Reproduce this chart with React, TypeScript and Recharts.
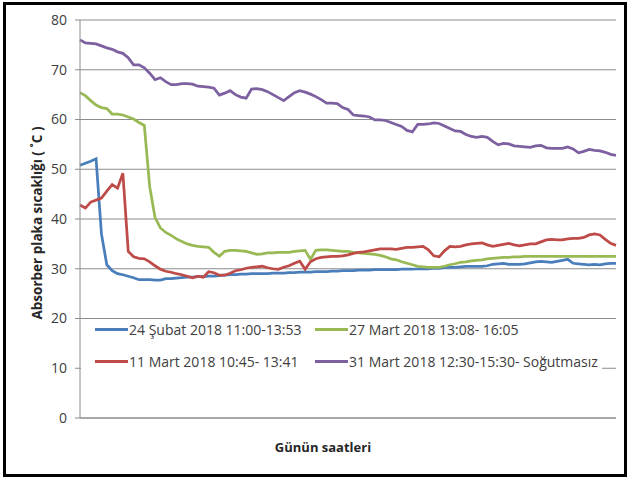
import React from 'react';
import { LineChart, Line, XAxis, YAxis, CartesianGrid, Legend } from 'recharts';

// One reading every two minutes, minute 0 .. 200
const SAMPLE_STEP = 2;
const xTicks = [0, 49, 98, 147, 196];
const yTicks = [0, 10, 20, 30, 40, 50, 60, 70, 80];

const subat24 = [
  50.8, 51.2, 51.6, 52.1, 37.0, 30.8, 29.6, 29.0, 28.8, 28.5,
  28.2, 27.8, 27.8, 27.8, 27.7, 27.7, 28.0, 28.0, 28.1, 28.2,
  28.3, 28.3, 28.4, 28.4, 28.5, 28.5, 28.6, 28.7, 28.8, 28.8,
  28.9, 28.9, 29.0, 29.0, 29.0, 29.0, 29.1, 29.1, 29.1, 29.2,
  29.2, 29.3, 29.3, 29.3, 29.4, 29.4, 29.4, 29.5, 29.5, 29.6,
  29.6, 29.6, 29.7, 29.7, 29.7, 29.8, 29.8, 29.8, 29.8, 29.8,
  29.9, 29.9, 29.9, 30.0, 30.0, 30.0, 30.1, 30.1, 30.2, 30.3,
  30.3, 30.4, 30.5, 30.5, 30.5, 30.5, 30.6, 30.9, 31.0, 31.1,
  30.9, 30.9, 30.9, 31.0, 31.2, 31.4, 31.5, 31.4, 31.3, 31.5,
  31.7, 31.9, 31.1, 31.0, 30.9, 30.8, 30.9, 30.8, 31.0, 31.1,
  31.1,
];

const mart27 = [
  65.4, 64.8, 63.8, 62.9, 62.4, 62.2, 61.1, 61.1, 60.9, 60.5,
  60.1, 59.4, 58.8, 46.5, 40.3, 38.2, 37.3, 36.7, 36.0, 35.5,
  35.0, 34.7, 34.5, 34.4, 34.3, 33.3, 32.5, 33.5, 33.7, 33.7,
  33.6, 33.5, 33.2, 32.9, 33.0, 33.2, 33.2, 33.3, 33.3, 33.3,
  33.5, 33.6, 33.7, 31.9, 33.7, 33.8, 33.8, 33.7, 33.6, 33.5,
  33.5, 33.3, 33.2, 33.1, 33.0, 32.9, 32.7, 32.4, 32.0, 31.8,
  31.4, 31.1, 30.8, 30.5, 30.4, 30.3, 30.3, 30.3, 30.5, 30.8,
  31.0, 31.3, 31.4, 31.6, 31.7, 31.8, 32.0, 32.1, 32.2, 32.3,
  32.3, 32.4, 32.4, 32.5, 32.5, 32.5, 32.5, 32.5, 32.5, 32.5,
  32.5, 32.5, 32.5, 32.5, 32.5, 32.5, 32.5, 32.5, 32.5, 32.5,
  32.5,
];

const mart11 = [
  42.8, 42.2, 43.4, 43.8, 44.2, 45.6, 46.9, 46.2, 49.2, 33.5,
  32.4, 32.1, 32.0, 31.4, 30.6, 29.9, 29.5, 29.3, 29.0, 28.8,
  28.5, 28.2, 28.5, 28.3, 29.4, 29.2, 28.7, 28.7, 29.1, 29.6,
  29.8, 30.1, 30.3, 30.4, 30.5, 30.2, 30.0, 29.9, 30.3, 30.6,
  31.1, 31.5, 29.9, 31.4, 32.0, 32.3, 32.4, 32.5, 32.5, 32.6,
  32.8, 33.1, 33.3, 33.4, 33.6, 33.8, 34.0, 34.0, 34.0, 33.9,
  34.1, 34.3, 34.3, 34.4, 34.5, 33.8, 32.6, 32.4, 33.6, 34.5,
  34.4, 34.5, 34.8, 35.0, 35.1, 35.2, 34.8, 34.5, 34.7, 34.9,
  35.1, 34.8, 34.6, 34.8, 35.0, 35.0, 35.4, 35.8, 35.9, 35.8,
  35.8, 36.0, 36.1, 36.1, 36.3, 36.8, 37.0, 36.8, 35.9, 35.1,
  34.7,
];

const mart31 = [
  76.0, 75.4, 75.3, 75.2, 74.8, 74.4, 74.1, 73.6, 73.3, 72.4,
  71.0, 71.0, 70.4, 69.3, 68.0, 68.4, 67.6, 67.0, 67.0, 67.2,
  67.2, 67.1, 66.7, 66.6, 66.5, 66.3, 64.9, 65.3, 65.8, 65.0,
  64.5, 64.3, 66.1, 66.2, 66.0, 65.6, 65.0, 64.4, 63.8, 64.6,
  65.4, 65.8, 65.5, 65.1, 64.6, 64.0, 63.3, 63.3, 63.2, 62.4,
  62.0, 60.9, 60.8, 60.7, 60.5, 59.9, 59.9, 59.8, 59.4, 59.0,
  58.6, 57.8, 57.5, 59.0, 59.0, 59.1, 59.3, 59.2, 58.7, 58.2,
  57.7, 57.6, 57.0, 56.6, 56.4, 56.6, 56.4, 55.6, 54.9, 55.2,
  55.1, 54.7, 54.6, 54.5, 54.4, 54.7, 54.8, 54.3, 54.2, 54.2,
  54.2, 54.5, 54.1, 53.3, 53.6, 54.0, 53.8, 53.7, 53.4, 53.0,
  52.8,
];

const seriesNames = {
  subat24: '24 Şubat 2018 11:00-13:53',
  mart27: '27 Mart 2018 13:08- 16:05',
  mart11: '11 Mart 2018 10:45- 13:41',
  mart31: '31 Mart 2018 12:30-15:30- Soğutmasız',
};

const seriesColors = {
  subat24: '#4A7EBB',
  mart27: '#98B954',
  mart11: '#BE4B48',
  mart31: '#7D60A0',
};

const data = subat24.map((_, i) => ({
  minute: i * SAMPLE_STEP,
  subat24: subat24[i],
  mart27: mart27[i],
  mart11: mart11[i],
  mart31: mart31[i],
}));

const X_TITLE = 'Günün saatleri';
const Y_TITLE = 'Absorber plaka sıcaklığı ( ˚C )';

// Two-column legend laid out row by row
const legendLayout: [keyof typeof seriesNames, number, number][] = [
  ['subat24', 14, 9],
  ['mart27', 234, 9],
  ['mart11', 14, 41.5],
  ['mart31', 234, 41.5],
];

const FONT = '"Open Sans", "Noto Sans", sans-serif';
const LINE_WIDTH = 2.75;

function ChartLegend() {
  return (
    <div style={{ position: 'relative', width: 521, height: 56, background: '#fff' }}>
      {legendLayout.map(([key, left, cy]) => (
        <div
          key={key}
          style={{
            position: 'absolute',
            left,
            top: cy - 10,
            height: 20,
            display: 'flex',
            alignItems: 'center',
            whiteSpace: 'nowrap',
          }}
        >
          <span style={{ display: 'inline-block', width: 33, height: 3, background: seriesColors[key] }} />
          <span style={{ marginLeft: 1, fontSize: 14, color: '#404040', fontFamily: FONT }}>
            {seriesNames[key]}
          </span>
        </div>
      ))}
    </div>
  );
}

function XTitle(props: any) {
  const { viewBox } = props;
  return (
    <text
      x={viewBox.x + viewBox.width / 2 - 25}
      y={viewBox.y + 34}
      textAnchor="middle"
      fontSize={13}
      fontWeight="bold"
      fill="#262626"
      fontFamily={FONT}
    >
      {X_TITLE}
    </text>
  );
}

function YTitle(props: any) {
  const { viewBox } = props;
  const cx = viewBox.x + viewBox.width / 2;
  const cy = viewBox.y + viewBox.height / 2 + 4;
  return (
    <text
      x={cx}
      y={cy}
      transform={`rotate(-90 ${cx} ${cy})`}
      textAnchor="middle"
      dominantBaseline="central"
      fontSize={13.5}
      fontWeight="bold"
      fill="#262626"
      fontFamily={FONT}
    >
      {Y_TITLE}
    </text>
  );
}

export default function App() {
  return (
    <div style={{ position: 'absolute', left: 0, top: 0, width: 628, height: 479, background: '#fff' }}>
      <LineChart
        width={628}
        height={479}
        data={data}
        margin={{ top: 20, right: 12, bottom: 21, left: -6 }}
        style={{ fontFamily: FONT }}
      >
        <CartesianGrid vertical={false} stroke="#8c8c8c" strokeWidth={1} />
        <XAxis
          dataKey="minute"
          type="number"
          domain={[0, 200]}
          ticks={xTicks}
          tick={false}
          tickSize={5}
          height={40}
          stroke="#8c8c8c"
          label={{ content: XTitle }}
        />
        <YAxis
          domain={[0, 80]}
          ticks={yTicks}
          width={86}
          tickSize={5}
          tickMargin={8}
          stroke="#8c8c8c"
          tick={{ fill: '#404040', fontSize: 14 }}
          label={{ content: YTitle }}
        />
        <Legend
          content={ChartLegend}
          layout="horizontal"
          verticalAlign="middle"
          wrapperStyle={{ position: 'absolute', left: 81, top: 320, width: 521, height: 56 }}
        />
        <Line dataKey="subat24" name={seriesNames.subat24} stroke={seriesColors.subat24} strokeWidth={LINE_WIDTH} dot={false} isAnimationActive={false} />
        <Line dataKey="mart27" name={seriesNames.mart27} stroke={seriesColors.mart27} strokeWidth={LINE_WIDTH} dot={false} isAnimationActive={false} />
        <Line dataKey="mart11" name={seriesNames.mart11} stroke={seriesColors.mart11} strokeWidth={LINE_WIDTH} dot={false} isAnimationActive={false} />
        <Line dataKey="mart31" name={seriesNames.mart31} stroke={seriesColors.mart31} strokeWidth={LINE_WIDTH} dot={false} isAnimationActive={false} />
      </LineChart>
      <div
        style={{
          position: 'absolute',
          left: 3,
          top: 2,
          width: 618,
          height: 469,
          border: '3px solid #000',
          pointerEvents: 'none',
        }}
      />
    </div>
  );
}
